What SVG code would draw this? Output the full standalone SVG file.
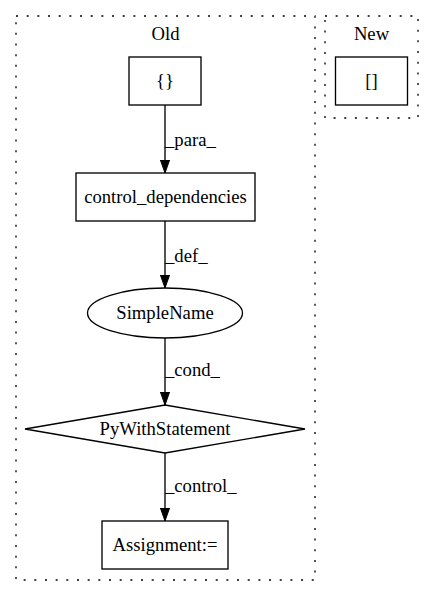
<svg xmlns="http://www.w3.org/2000/svg" width="435" height="596" viewBox="0 0 435 596" font-family="Liberation Serif, Times New Roman, serif">
<style>
text{font-family:'Liberation Serif','Times New Roman',serif;font-size:18.67px;text-anchor:middle;fill:#000}
text.lbl{text-anchor:start}
.cl{fill:none;stroke:#000;stroke-dasharray:2,8.67;stroke-width:1.33}
.n{fill:#fff;stroke:#000;stroke-width:1.33}
.e{fill:none;stroke:#000;stroke-width:1.33}
</style>
<defs>
<marker id="ah" markerWidth="14" markerHeight="10" refX="13.3" refY="4.7" orient="auto" markerUnits="userSpaceOnUse">
<polygon points="0,0 13.3,4.7 0,9.4" fill="#000" stroke="#000" stroke-width="1"/>
</marker>
</defs>
<rect width="435" height="596" fill="#fff"/>
<g id="cluster_old">
<rect class="cl" x="16" y="16" width="299" height="564"/>
<text x="165.5" y="40">Old</text>
</g>
<g id="cluster_new">
<rect class="cl" x="325" y="16" width="93" height="102"/>
<text x="371.5" y="40">New</text>
</g>
<g id="edges">
<line class="e" x1="165" y1="105" x2="165" y2="173" marker-end="url(#ah)"/>
<text class="lbl" x="165" y="146">_para_</text>
<line class="e" x1="165" y1="221" x2="165" y2="288" marker-end="url(#ah)"/>
<text class="lbl" x="165" y="262">_def_</text>
<line class="e" x1="165" y1="338" x2="165" y2="405" marker-end="url(#ah)"/>
<text class="lbl" x="165" y="376">_cond_</text>
<line class="e" x1="165" y1="453" x2="165" y2="521" marker-end="url(#ah)"/>
<text class="lbl" x="165" y="492">_control_</text>
</g>
<g id="n_braces">
<rect class="n" x="129" y="57" width="72" height="48"/>
<text x="165" y="87">{}</text>
</g>
<g id="n_brackets">
<rect class="n" x="335.5" y="57" width="72" height="48"/>
<text x="371.5" y="87">[]</text>
</g>
<g id="n_control_dependencies">
<rect class="n" x="76" y="173" width="179" height="48"/>
<text x="165.5" y="203">control_dependencies</text>
</g>
<g id="n_simplename">
<ellipse class="n" cx="165" cy="313" rx="77.5" ry="25"/>
<text x="165" y="319">SimpleName</text>
</g>
<g id="n_pywith">
<polygon class="n" points="165,405 305,429 165,453 25,429"/>
<text x="165" y="435">PyWithStatement</text>
</g>
<g id="n_assignment">
<rect class="n" x="102" y="521" width="126" height="48"/>
<text x="165" y="551">Assignment:=</text>
</g>
</svg>
